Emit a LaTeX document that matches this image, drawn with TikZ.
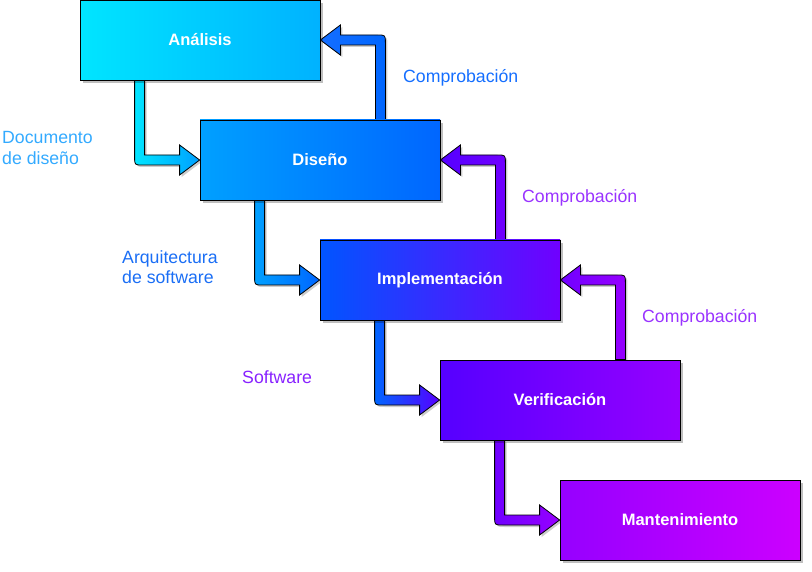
\documentclass[tikz,border=0pt]{standalone}
\usepackage{fontspec}
\setmainfont{Liberation Sans}
\usetikzlibrary{calc,shadows,backgrounds}

% phase colours (left / right of the gradient)
\definecolor{anaL}{RGB}{0,229,255}
\definecolor{anaR}{RGB}{0,178,255}
\definecolor{disL}{RGB}{0,160,255}
\definecolor{disR}{RGB}{0,102,255}
\definecolor{impL}{RGB}{0,85,255}
\definecolor{impR}{RGB}{112,0,255}
\definecolor{verL}{RGB}{85,0,255}
\definecolor{verR}{RGB}{150,0,255}
\definecolor{manL}{RGB}{150,0,255}
\definecolor{manR}{RGB}{204,0,255}
% label colours
\definecolor{docC}{RGB}{51,170,255}
\definecolor{arqC}{RGB}{26,110,245}
\definecolor{cmpA}{RGB}{20,110,255}
\definecolor{cmpB}{RGB}{153,51,255}
\definecolor{sftC}{RGB}{136,34,255}

% block arrow: down from #1, then right to #2
\newcommand\flowdown[4]{%
  \shade[flowarrow, left color=#3, right color=#4]
    ($(#1)+(-5,0)$) -- ($(#1 |- #2)+(-5,-3)$)
    .. controls ($(#1 |- #2)+(-5,5)$) .. ($(#1 |- #2)+(3,5)$)
    -- ($(#2)+(-20,5)$) -- ($(#2)+(-20,15)$) -- (#2)
    -- ($(#2)+(-20,-15)$) -- ($(#2)+(-20,-5)$)
    -- ($(#1 |- #2)+(5,-5)$) -- ($(#1)+(5,0)$) -- cycle;}
% block arrow: up from #1, then left to #2
\newcommand\flowup[4]{%
  \shade[flowarrow, left color=#3, right color=#4]
    ($(#1)+(5,0)$) -- ($(#1 |- #2)+(5,3)$)
    .. controls ($(#1 |- #2)+(5,-5)$) .. ($(#1 |- #2)+(-3,-5)$)
    -- ($(#2)+(20,-5)$) -- ($(#2)+(20,-15)$) -- (#2)
    -- ($(#2)+(20,15)$) -- ($(#2)+(20,5)$)
    -- ($(#1 |- #2)+(-5,5)$) -- ($(#1)+(-5,0)$) -- cycle;}

\begin{document}
\begin{tikzpicture}[x=1pt, y=-1pt,
  phase/.style={draw=black, line width=0.8pt, minimum width=240pt,
    minimum height=80pt, inner sep=0pt, text=white,
    font=\fontsize{16.5}{19}\selectfont\bfseries,
    drop shadow={shadow xshift=3pt, shadow yshift=-3pt, opacity=0.25, fill=black}},
  flowarrow/.style={draw=black, line width=0.8pt,
    drop shadow={shadow xshift=2pt, shadow yshift=-2pt, opacity=0.2, fill=black}},
  note/.style={anchor=west, align=left, inner sep=0pt,
    font=\fontsize{17.7}{20.5}\selectfont}]

\useasboundingbox (0,0) rectangle (812,572);

% Phases
\node[phase, left color=anaL, right color=anaR] (ana) at (200,40) {Análisis};
\node[phase, left color=disL, right color=disR] (dis) at (320,160) {Diseño};
\node[phase, left color=impL, right color=impR] (imp) at (440,280) {Implementación};
\node[phase, left color=verL, right color=verR] (ver) at (560,400) {Verificación};
\node[phase, left color=manL, right color=manR] (man) at (680,520) {Mantenimiento};

% Arrow ends on the boxes
\coordinate (ana-out) at ($(ana.south west)+(60,0)$);
\coordinate (dis-out) at ($(dis.south west)+(60,0)$);
\coordinate (dis-back) at ($(dis.north east)+(-60,0)$);
\coordinate (imp-out) at ($(imp.south west)+(60,0)$);
\coordinate (imp-back) at ($(imp.north east)+(-60,0)$);
\coordinate (ver-out) at ($(ver.south west)+(60,0)$);
\coordinate (ver-back) at ($(ver.north east)+(-60,0)$);

% Arrows
\begin{scope}[on background layer]
\flowdown{ana-out}{dis.west}{anaL}{disL}
\flowup{dis-back}{ana.east}{cmpA}{disR}
\flowdown{dis-out}{imp.west}{disL}{disR}
\flowup{imp-back}{dis.east}{verL}{impR}
\flowdown{imp-out}{ver.west}{disR}{verL}
\flowup{ver-back}{imp.east}{impR}{verR}
\flowdown{ver-out}{man.west}{impR}{manL}
\end{scope}

% Labels
\node[note, text=cmpA] (chk1) at (403,77.5) {Comprobación};
\node[note, text=docC] (doc) at (2,148) {Documento\\de diseño};
\node[note, text=arqC] (arq) at (122,267) {Arquitectura\\de software};
\node[note, text=cmpB] (chk2) at (522,197.5) {Comprobación};
\node[note, text=sftC] (sft) at (242,377.5) {Software};
\node[note, text=cmpB] (chk3) at (642,317.5) {Comprobación};
\end{tikzpicture}
\end{document}
